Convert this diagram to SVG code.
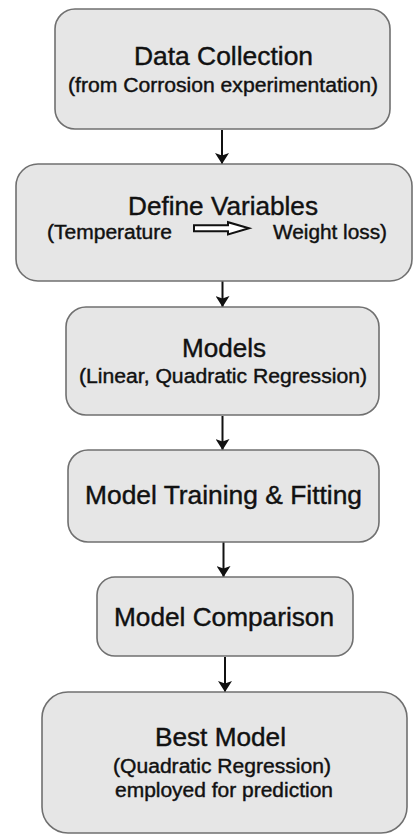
<svg xmlns="http://www.w3.org/2000/svg" width="414" height="837" viewBox="0 0 414 837">
  <defs>
    <style>
      .box { fill: #e6e6e6; stroke: #707070; stroke-width: 1.6; }
      .t { font-family: "Liberation Sans", Arial, sans-serif; fill: #111; stroke: #111; stroke-width: 0.4; }
      .title { font-size: 25px; }
      .sub { font-size: 19.5px; }
      .conn { stroke: #111; stroke-width: 2; fill: none; }
    </style>
    <marker id="ah" markerUnits="userSpaceOnUse" markerWidth="12" markerHeight="14" refX="11" refY="7" orient="auto" viewBox="0 0 12 14">
      <path d="M0,0 L11,7 L0,14 L2.5,7 Z" fill="#111"/>
    </marker>
  </defs>
  <rect width="414" height="837" fill="#ffffff"/>

  <g id="connectors">
    <line class="conn" x1="222" y1="130" x2="222" y2="164" marker-end="url(#ah)"/>
    <line class="conn" x1="222.5" y1="281" x2="222.5" y2="307" marker-end="url(#ah)"/>
    <line class="conn" x1="222.5" y1="416" x2="222.5" y2="450" marker-end="url(#ah)"/>
    <line class="conn" x1="223.5" y1="542" x2="223.5" y2="577" marker-end="url(#ah)"/>
    <line class="conn" x1="225" y1="657" x2="225" y2="692" marker-end="url(#ah)"/>
  </g>

  <g id="data-collection">
    <rect class="box" x="55" y="9" width="335" height="120" rx="20"/>
    <text class="t title" x="134" y="65" textLength="179" lengthAdjust="spacingAndGlyphs">Data Collection</text>
    <text class="t sub" x="68" y="92" textLength="310" lengthAdjust="spacingAndGlyphs">(from Corrosion experimentation)</text>
  </g>

  <g id="define-variables">
    <rect class="box" x="16" y="164" width="396" height="117" rx="22"/>
    <text class="t title" x="128" y="215" textLength="190" lengthAdjust="spacingAndGlyphs">Define Variables</text>
    <text class="t sub" x="47" y="239" textLength="125" lengthAdjust="spacingAndGlyphs">(Temperature</text>
    <polygon points="194,225.3 228,225.3 228,222.2 249,228.3 228,234.4 228,231.3 194,231.3" fill="#ffffff" stroke="#111" stroke-width="2" stroke-linejoin="miter"/>
    <text class="t sub" x="273" y="239" textLength="114" lengthAdjust="spacingAndGlyphs">Weight loss)</text>
  </g>

  <g id="models">
    <rect class="box" x="66" y="307" width="313" height="108" rx="20"/>
    <text class="t title" x="182" y="357" textLength="84" lengthAdjust="spacingAndGlyphs">Models</text>
    <text class="t sub" x="79" y="383" textLength="288" lengthAdjust="spacingAndGlyphs">(Linear, Quadratic Regression)</text>
  </g>

  <g id="model-training">
    <rect class="box" x="68" y="450" width="311" height="92" rx="20"/>
    <text class="t title" x="85" y="504" textLength="277" lengthAdjust="spacingAndGlyphs">Model Training &amp; Fitting</text>
  </g>

  <g id="model-comparison">
    <rect class="box" x="97" y="577" width="256" height="79" rx="18"/>
    <text class="t title" x="114" y="626" textLength="220" lengthAdjust="spacingAndGlyphs">Model Comparison</text>
  </g>

  <g id="best-model">
    <rect class="box" x="42" y="692" width="365" height="141" rx="26"/>
    <text class="t title" x="155" y="746" textLength="131" lengthAdjust="spacingAndGlyphs">Best Model</text>
    <text class="t sub" x="113" y="773" textLength="218" lengthAdjust="spacingAndGlyphs">(Quadratic Regression)</text>
    <text class="t sub" x="115" y="797" textLength="218" lengthAdjust="spacingAndGlyphs">employed for prediction</text>
  </g>
</svg>
